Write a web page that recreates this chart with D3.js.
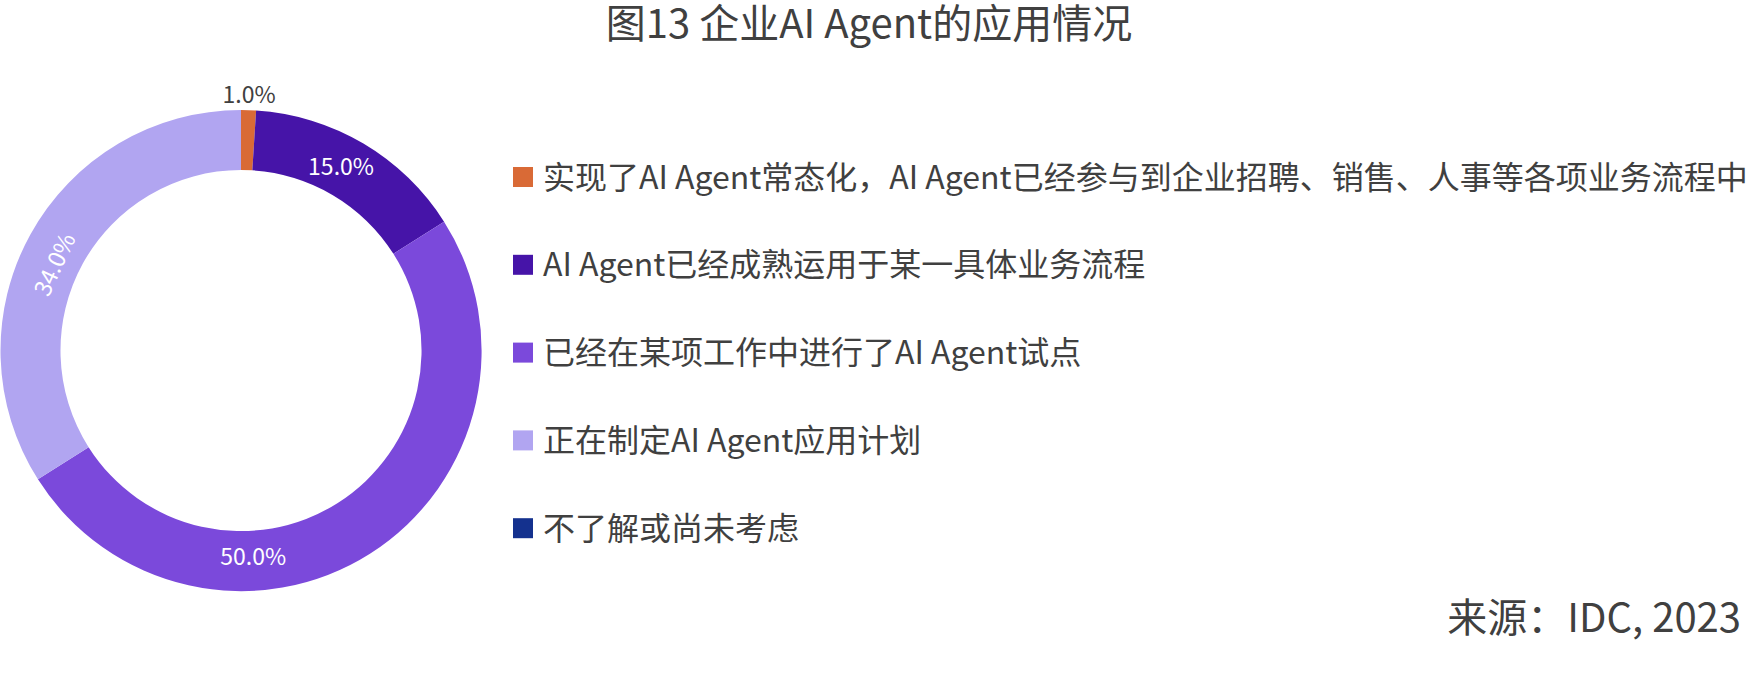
<!DOCTYPE html>
<html lang="zh">
<head>
  <meta charset="UTF-8">
  <title>企业AI Agent的应用情况</title>
  <script src="https://cdn.jsdelivr.net/npm/d3@7"></script>
  <style>
    body { margin: 0; background: #fff; }
    text { font-family: "Noto Sans CJK SC", "Noto Sans", sans-serif; fill: #404040; }
  </style>
</head>
<body>
<script>
  // data
  var categories = [
    "实现了AI Agent常态化，AI Agent已经参与到企业招聘、销售、人事等各项业务流程中",
    "AI Agent已经成熟运用于某一具体业务流程",
    "已经在某项工作中进行了AI Agent试点",
    "正在制定AI Agent应用计划",
    "不了解或尚未考虑"
  ];
  var values = [1.0, 15.0, 50.0, 34.0, 0.0];
  var colors = ["#d96a36", "#4614a8", "#7b49db", "#b1a5f1", "#14318e"];

  var title = "图13 企业AI Agent的应用情况";
  var source = "来源：IDC, 2023";

  var width = 1747, height = 674;
  var cx = 241, cy = 350.5,
      outerRadius = 240.5, innerRadius = 180.5;

  var svg = d3.select("body").append("svg")
    .attr("width", width)
    .attr("height", height);

  svg.append("text")
    .attr("x", 869)
    .attr("y", 38)
    .attr("text-anchor", "middle")
    .style("font-size", "40px")
    .text(title);

  var pie = d3.pie().sort(null).value(function (d) { return d; });
  var arcs = pie(values);

  var arc = d3.arc().innerRadius(innerRadius).outerRadius(outerRadius);

  var g = svg.append("g")
    .attr("transform", "translate(" + cx + "," + cy + ")");

  g.selectAll(".slice")
    .data(arcs)
    .enter().append("path")
    .attr("class", "slice")
    .attr("fill", function (d, i) { return colors[i]; })
    .attr("d", arc);

  // label placement: small slice goes outside, the big one sits near the bottom,
  // the left one turns along the ring
  var labelShift = [0, -2, 29, -4, 0];
  var labelRadius = [256, 209, 207, 205, 0];
  var rotateLabel = [false, false, false, true, false];

  g.selectAll(".label")
    .data(arcs.filter(function (d) { return d.value > 0; }))
    .enter().append("text")
    .attr("class", "label")
    .attr("text-anchor", "middle")
    .attr("dy", "0.35em")
    .style("font-size", "23px")
    .style("fill", function (d) { return d.index === 0 ? "#404040" : "#fff"; })
    .attr("transform", function (d) {
      var i = d.index;
      var a = (d.startAngle + d.endAngle) / 2 + labelShift[i] * Math.PI / 180;
      var r = labelRadius[i];
      var x = Math.sin(a) * r, y = -Math.cos(a) * r;
      var t = "translate(" + x + "," + y + ")";
      if (rotateLabel[i]) t += "rotate(" + (a * 180 / Math.PI - 360) + ")";
      return t;
    })
    .text(function (d) { return d3.format(".1f")(d.value) + "%"; });

  var legend = svg.append("g")
    .attr("transform", "translate(513,177)");

  var row = legend.selectAll(".row")
    .data(categories)
    .enter().append("g")
    .attr("class", "row")
    .attr("transform", function (d, i) { return "translate(0," + (i * 87.8) + ")"; });

  row.append("rect")
    .attr("x", 0)
    .attr("y", -10)
    .attr("width", 20)
    .attr("height", 20)
    .attr("fill", function (d, i) { return colors[i]; });

  row.append("text")
    .attr("x", 30)
    .attr("dy", "0.36em")
    .style("font-size", "32px")
    .text(function (d) { return d; });

  svg.append("text")
    .attr("x", 1741)
    .attr("y", 632)
    .attr("text-anchor", "end")
    .style("font-size", "40px")
    .text(source);
</script>
</body>
</html>
